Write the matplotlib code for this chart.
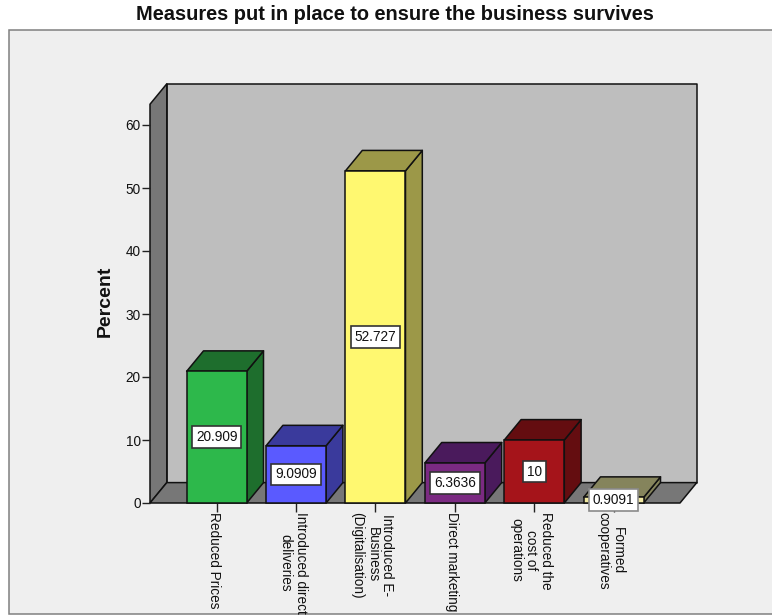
import matplotlib
matplotlib.use("Agg")
import matplotlib.pyplot as plt
from matplotlib.patches import Polygon, Rectangle
from matplotlib.transforms import ScaledTranslation

plt.rcParams["font.family"] = ["Liberation Sans", "DejaVu Sans"]

# Survey results
categories = [
    "Reduced Prices",
    "Introduced direct\ndeliveries",
    "Introduced E-\nBusiness\n(Digitalisation)",
    "Direct marketing",
    "Reduced the\ncost of\noperations",
    "Formed\ncooperatives",
]
percent = [20.909, 9.0909, 52.727, 6.3636, 10, 0.9091]
value_labels = ["20.909", "9.0909", "52.727", "6.3636", "10", "0.9091"]
y_ticks = [0, 10, 20, 30, 40, 50, 60]

# Face, top and side colours of each bar
front_colors = ["#2DB84B", "#5A5AFF", "#FFF870", "#7B2A82", "#A5141A", "#F0E8A0"]
top_colors = ["#1E6E2D", "#3A3A9C", "#9C9848", "#4A1A5C", "#640D10", "#85845C"]
side_colors = ["#1E6E2D", "#3A3A9C", "#9C9848", "#4A1A5C", "#640D10", "#85845C"]

W, H = 772, 615
fig = plt.figure(figsize=(W / 100, H / 100), dpi=100, facecolor="white")

# Light chart panel with a grey frame, kept behind the axes
panel = Rectangle((8.5 / W, 1 - 614 / H), 1, (614 - 30) / H, transform=fig.transFigure,
                  facecolor="#EFEFEF", edgecolor="#808080", linewidth=1.1, clip_on=False,
                  zorder=-1)
fig.add_artist(panel)

# Axes cover the front plane of the 3D box
left, right, y_zero, y_sixty = 150, 680, 503, 125
ax = fig.add_axes([left / W, 1 - y_zero / H, (right - left) / W, (y_zero - y_sixty) / H])
ax.patch.set_visible(False)
ax.set_xlim(-0.84, 5.835)
ax.set_ylim(0, 60)
for spine in ax.spines.values():
    spine.set_visible(False)

# Oblique depth expressed in data units
px_x = (right - left) / (5.835 + 0.84)
px_y = (y_zero - y_sixty) / 60
dx = 16.8 / px_x
dy = 20.4 / px_y
x0, x1 = ax.get_xlim()
top = 63.3


def face(points, color, z):
    ax.add_patch(Polygon(points, closed=True, facecolor=color, edgecolor="#111111",
                         linewidth=1.1, joinstyle="round", clip_on=False, zorder=z))


# Back wall, left wall and floor of the box
face([(x0 + dx, dy), (x1 + dx, dy), (x1 + dx, top + dy), (x0 + dx, top + dy)], "#BEBEBE", 1)
face([(x0, 0), (x0 + dx, dy), (x0 + dx, top + dy), (x0, top)], "#777777", 1.1)
face([(x0, 0), (x1, 0), (x1 + dx, dy), (x0 + dx, dy)], "#777777", 1.2)

# Bars, each with a front face from the bar call and oblique top and side faces
bar_width = 60 / px_x
positions = list(range(len(categories)))
for i, (pos, val) in enumerate(zip(positions, percent)):
    z = 2 + i * 0.1
    a, b = pos - bar_width / 2, pos + bar_width / 2
    face([(b, 0), (b + dx, dy), (b + dx, val + dy), (b, val)], side_colors[i], z)
    face([(a, val), (b, val), (b + dx, val + dy), (a + dx, val + dy)], top_colors[i], z)
    ax.bar(pos, val, width=bar_width, color=front_colors[i], edgecolor="#111111",
           linewidth=1.1, zorder=z + 0.05, clip_on=False)

# Value boxes at mid-height of each bar
for i, (pos, val, text) in enumerate(zip(positions, percent, value_labels)):
    edge = "#8A8A8A" if i == len(percent) - 1 else "#333333"
    ax.text(pos, val / 2, text, ha="center", va="center", fontsize=9.8, color="#111111",
            zorder=5, bbox=dict(boxstyle="square,pad=0.28", facecolor="white",
                                edgecolor=edge, linewidth=1.2))

# Axis ticks and labels
ax.set_yticks(y_ticks)
ax.tick_params(axis="y", length=5.8, width=1.0, pad=1, labelsize=9.8, color="#222222",
               labelcolor="#111111")
ax.set_xticks(positions)
ax.set_xticklabels(categories, rotation=-90, ha="center", va="top", fontsize=9.8,
                   color="#111111", linespacing=1.08)
ax.tick_params(axis="x", length=6.2, width=1.0, pad=0, color="#222222")

# Category labels sit slightly left of their ticks
nudge = ScaledTranslation(-3 / 100, 0, fig.dpi_scale_trans)
for label in ax.get_xticklabels():
    label.set_transform(label.get_transform() + nudge)

fig.text(105 / W, 1 - 301.5 / H, "Percent", rotation=90, ha="center", va="center",
         fontsize=14, fontweight="bold", color="#111111")
fig.text(394.5 / W, 1 - 14 / H, "Measures put in place to ensure the business survives",
         ha="center", va="center", fontsize=14.4, fontweight="bold", color="#111111")

fig.savefig("out.png", dpi=100)
